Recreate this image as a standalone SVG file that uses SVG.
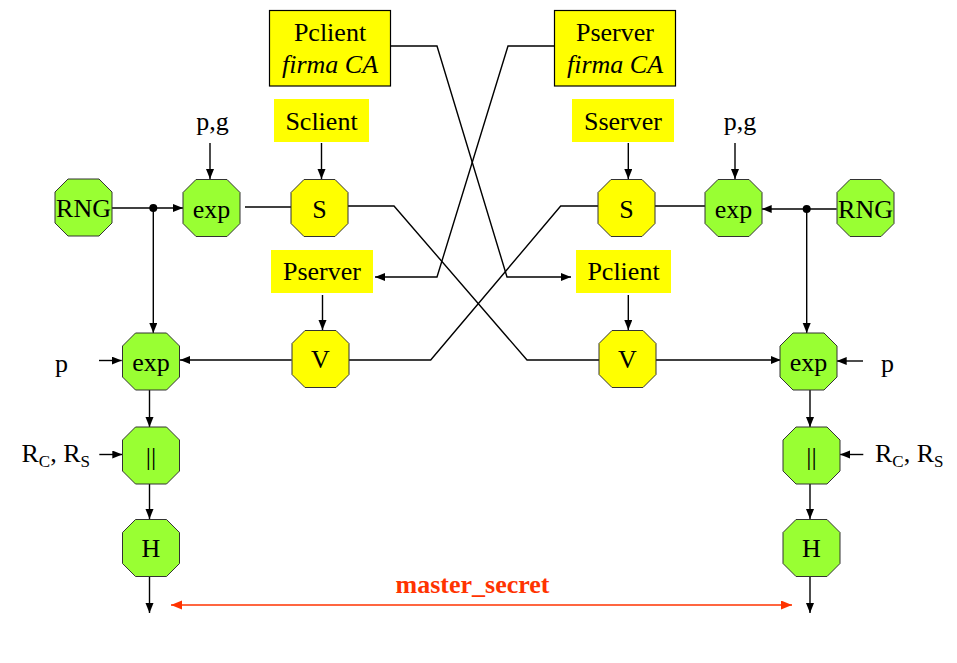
<svg xmlns="http://www.w3.org/2000/svg" xmlns:xlink="http://www.w3.org/1999/xlink" width="957" height="663" viewBox="0 0 957 663">
<style>
  text { font-family: "Liberation Serif", "Times New Roman", serif; font-size: 26px; fill: #000; }
  .c { text-anchor: middle; }
  .g { fill: #99FF33; stroke: #333; stroke-width: 1; }
  .y { fill: #FFFF00; stroke: #333; stroke-width: 1; }
  .box { fill: #FFFF00; }
  .boxb { fill: #FFFF00; stroke: #000; stroke-width: 1.2; }
  .ln { fill: none; stroke: #000; stroke-width: 1.4; }
  .arr { fill: none; stroke: #000; stroke-width: 1.4; marker-end: url(#ah); }
  .red { fill: none; stroke: #FF3300; stroke-width: 1.6; marker-start: url(#rh); marker-end: url(#rh); }
  .ms { font-weight: bold; fill: #FF3300; font-size: 26px; }
  .sub { font-size: 17px; }
</style>
<defs>
  <polygon id="oct" points="-15.5,-28.5 15.5,-28.5 28.5,-15.5 28.5,15.5 15.5,28.5 -15.5,28.5 -28.5,15.5 -28.5,-15.5"/>
  <marker id="ah" markerUnits="userSpaceOnUse" markerWidth="11" markerHeight="9" refX="10" refY="4" orient="auto">
    <path d="M0,0 L10,4 L0,8 z" fill="#000"/>
  </marker>
  <marker id="rh" markerUnits="userSpaceOnUse" markerWidth="12" markerHeight="10" refX="11" refY="4.5" orient="auto-start-reverse">
    <path d="M0,0 L11,4.5 L0,9 z" fill="#FF3300"/>
  </marker>
</defs>

<g id="connectors">
  <!-- left side -->
  <line class="arr" x1="112" y1="208" x2="183" y2="208"/>
  <circle cx="153.3" cy="208" r="4" fill="#000"/>
  <line class="arr" x1="153.3" y1="208" x2="153.3" y2="333"/>
  <line class="arr" x1="210" y1="143" x2="210" y2="179"/>
  <line class="arr" x1="321.5" y1="143" x2="321.5" y2="179"/>
  <line class="ln" x1="245" y1="207" x2="291" y2="207"/>
  <polyline class="ln" points="348,206 394,206 527,360 599,360"/>
  <polyline class="ln" points="598,206 560.7,206 430.7,360 349,360"/>
  <line class="arr" x1="291.7" y1="360" x2="180" y2="360"/>
  <line class="arr" x1="322.5" y1="295" x2="322.5" y2="330"/>
  <line class="arr" x1="99" y1="360.5" x2="121.7" y2="360.5"/>
  <line class="arr" x1="149.5" y1="390" x2="149.5" y2="427"/>
  <line class="arr" x1="149.5" y1="484" x2="149.5" y2="519"/>
  <line class="arr" x1="149.5" y1="577" x2="149.5" y2="613"/>
  <line class="arr" x1="99.3" y1="454.5" x2="122.3" y2="454.5"/>
  <!-- certificates -->
  <polyline class="arr" points="391,46 437,46 507,277 571,277"/>
  <polyline class="arr" points="554,46 508,46 437,277 375,277"/>
  <!-- right side -->
  <line class="arr" x1="628.3" y1="143" x2="628.3" y2="179"/>
  <line class="arr" x1="735" y1="143" x2="735" y2="179"/>
  <line class="ln" x1="655" y1="206" x2="706" y2="206"/>
  <line class="arr" x1="836.7" y1="209" x2="761.7" y2="209"/>
  <circle cx="806.7" cy="209" r="4" fill="#000"/>
  <line class="arr" x1="806.7" y1="209" x2="806.7" y2="333"/>
  <line class="arr" x1="628.3" y1="295" x2="628.3" y2="330"/>
  <line class="arr" x1="655.7" y1="360" x2="780.7" y2="360"/>
  <line class="arr" x1="863" y1="361" x2="836.7" y2="361"/>
  <line class="arr" x1="810" y1="390" x2="810" y2="427"/>
  <line class="arr" x1="810" y1="484" x2="810" y2="519"/>
  <line class="arr" x1="810" y1="577" x2="810" y2="613"/>
  <line class="arr" x1="863.3" y1="454.5" x2="840" y2="454.5"/>
  <!-- master secret -->
  <line class="red" x1="171" y1="605" x2="792" y2="605"/>
</g>

<g id="pclient-ca">
  <rect class="boxb" x="269.5" y="10.5" width="121" height="75.5"/>
  <text class="c" x="330" y="40.5">Pclient</text>
  <text class="c" x="330" y="72.5" font-style="italic">firma CA</text>
</g>
<g id="pserver-ca">
  <rect class="boxb" x="554.5" y="10.5" width="121" height="75.5"/>
  <text class="c" x="615" y="40.5">Pserver</text>
  <text class="c" x="615" y="72.5" font-style="italic">firma CA</text>
</g>
<g id="sclient">
  <rect class="box" x="274" y="99" width="95" height="43"/>
  <text class="c" x="321.5" y="129.5">Sclient</text>
</g>
<g id="sserver">
  <rect class="box" x="572" y="99" width="102" height="43"/>
  <text class="c" x="623" y="129.5">Sserver</text>
</g>
<g id="pserver">
  <rect class="box" x="271" y="250" width="102" height="43"/>
  <text class="c" x="322" y="280">Pserver</text>
</g>
<g id="pclient">
  <rect class="box" x="576" y="250" width="95" height="43"/>
  <text class="c" x="623.5" y="280">Pclient</text>
</g>

<g id="rng-left"><use xlink:href="#oct" href="#oct" class="g" x="83.5" y="207.5"/><text class="c" x="83.5" y="217">RNG</text></g>
<g id="exp-left-1"><use xlink:href="#oct" href="#oct" class="g" x="211.5" y="208"/><text class="c" x="211.5" y="217.5">exp</text></g>
<g id="s-left"><use xlink:href="#oct" href="#oct" class="y" x="319.5" y="208"/><text class="c" x="319.5" y="217.5">S</text></g>
<g id="exp-left-2"><use xlink:href="#oct" href="#oct" class="g" x="151" y="361.5"/><text class="c" x="151" y="371">exp</text></g>
<g id="v-left"><use xlink:href="#oct" href="#oct" class="y" x="320.5" y="359"/><text class="c" x="320.5" y="368">V</text></g>
<g id="concat-left"><use xlink:href="#oct" href="#oct" class="g" x="151" y="455.5"/><text class="c" x="151" y="465">||</text></g>
<g id="h-left"><use xlink:href="#oct" href="#oct" class="g" x="151" y="548"/><text class="c" x="151" y="557">H</text></g>

<g id="s-right"><use xlink:href="#oct" href="#oct" class="y" x="626.5" y="208"/><text class="c" x="626.5" y="217.5">S</text></g>
<g id="exp-right-1"><use xlink:href="#oct" href="#oct" class="g" x="733.5" y="208"/><text class="c" x="733.5" y="217.5">exp</text></g>
<g id="rng-right"><use xlink:href="#oct" href="#oct" class="g" x="865.5" y="208"/><text class="c" x="865.5" y="217.5">RNG</text></g>
<g id="v-right"><use xlink:href="#oct" href="#oct" class="y" x="627.5" y="359"/><text class="c" x="627.5" y="368">V</text></g>
<g id="exp-right-2"><use xlink:href="#oct" href="#oct" class="g" x="808.5" y="361.5"/><text class="c" x="808.5" y="371">exp</text></g>
<g id="concat-right"><use xlink:href="#oct" href="#oct" class="g" x="811.5" y="455.5"/><text class="c" x="811.5" y="465">||</text></g>
<g id="h-right"><use xlink:href="#oct" href="#oct" class="g" x="811.5" y="548"/><text class="c" x="811.5" y="557">H</text></g>

<g id="labels">
  <text class="c" x="212.5" y="130">p,g</text>
  <text class="c" x="740" y="130">p,g</text>
  <text x="55" y="371.5">p</text>
  <text x="881" y="371.5">p</text>
  <text x="21.5" y="461.5">R<tspan class="sub" dy="5">C</tspan><tspan dy="-5">, R</tspan><tspan class="sub" dy="5">S</tspan></text>
  <text x="875" y="461.5">R<tspan class="sub" dy="5">C</tspan><tspan dy="-5">, R</tspan><tspan class="sub" dy="5">S</tspan></text>
  <text class="c ms" x="472.5" y="592.5">master_secret</text>
</g>
</svg>
